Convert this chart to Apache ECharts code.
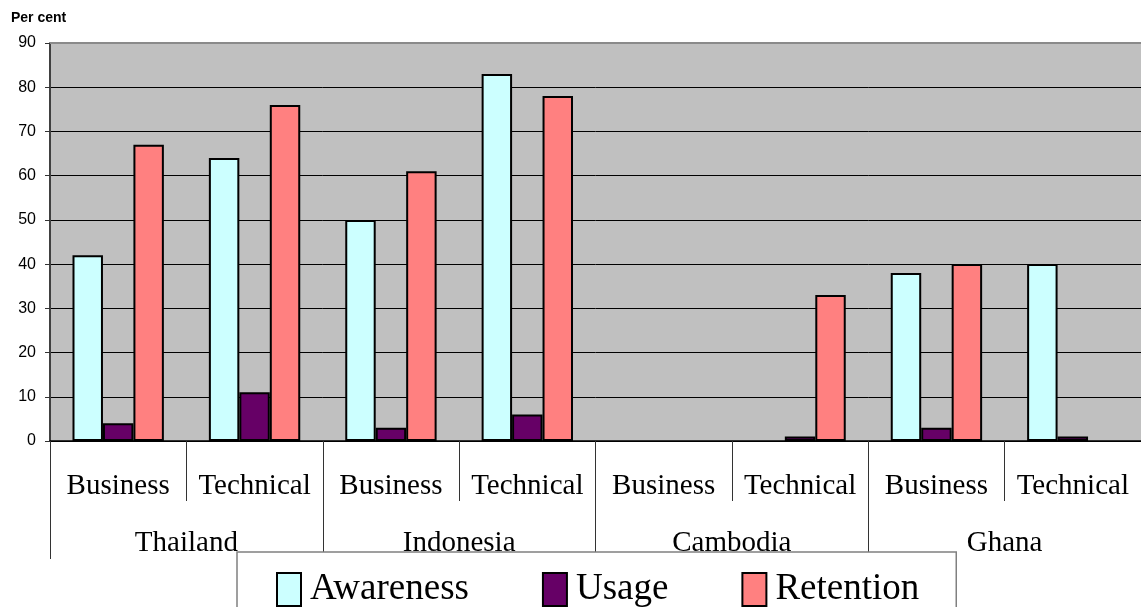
<!DOCTYPE html>
<html>
<head>
<meta charset="utf-8">
<script src="https://cdn.jsdelivr.net/npm/echarts@6/dist/echarts.min.js"></script>
<style>
html,body{margin:0;padding:0;background:#fff;}
#chart{width:1141px;height:607px;}
</style>
</head>
<body>
<div id="chart"></div>
<script>
// ---- data ----
const subCategories = ['Business','Technical','Business','Technical','Business','Technical','Business','Technical'];
const countries = ['Thailand','Indonesia','Cambodia','Ghana'];
const awareness = [42, 64, 50, 83, null, null, 38, 40];
const usage     = [4, 11, 3, 6, null, 1, 3, 1];
const retention = [67, 76, 61, 78, null, 33, 40, null];
const yTicks = [0,10,20,30,40,50,60,70,80,90];
const yTitle = 'Per cent';

const serif = '"Liberation Serif", "Times New Roman", serif';
const sans = '"Liberation Sans", Arial, sans-serif';

const chart = echarts.init(document.getElementById('chart'));
const splitColors = yTicks.map((v, i) => i === yTicks.length - 1 ? 'rgba(0,0,0,0)' : '#000');

const barStyle = (c) => ({ color: c, borderColor: '#000', borderWidth: 2 });

chart.setOption({
  animation: false,
  backgroundColor: '#fff',
  grid: {
    left: 50, right: -6, top: 43, bottom: 166,
    show: true, backgroundColor: '#C0C0C0', borderWidth: 0
  },
  graphic: [{
    type: 'text', left: 11, top: 11,
    style: { text: yTitle, font: 'bold 14px ' + sans, fill: '#000' }
  }],
  legend: {
    left: 237, top: 552,
    padding: [19, 37, 20, 39],
    itemGap: 73,
    itemWidth: 24, itemHeight: 33,
    icon: 'rect',
    backgroundColor: '#fff',
    borderColor: '#808080', borderWidth: 1.5,
    textStyle: { fontFamily: serif, fontSize: 37, color: '#000', padding: [18, 0, 0, 4] },
    data: ['Awareness', 'Usage', 'Retention']
  },
  xAxis: [{
    type: 'category', data: subCategories, position: 'bottom',
    axisLine: { show: true, lineStyle: { color: '#000', width: 1.5 } },
    axisTick: { show: true, length: 60, interval: 0, lineStyle: { color: '#333', width: 1 } },
    axisLabel: { interval: 0, margin: 31, fontFamily: serif, fontSize: 29, lineHeight: 29, color: '#000' },
    splitLine: { show: false }
  }, {
    type: 'category', data: countries, position: 'bottom',
    axisLine: { show: false },
    axisTick: { show: true, length: 118, interval: 0, lineStyle: { color: '#333', width: 1 } },
    axisLabel: { interval: 0, margin: 88, fontFamily: serif, fontSize: 29, lineHeight: 29, color: '#000' },
    splitLine: { show: false }
  }, {
    type: 'category', data: subCategories, position: 'top',
    axisLine: { show: true, lineStyle: { color: '#8a8a8a', width: 2 } },
    axisTick: { show: false }, axisLabel: { show: false }, splitLine: { show: false }
  }],
  yAxis: {
    type: 'value', min: 0, max: 90, interval: 10,
    axisLine: { show: true, lineStyle: { color: '#404040', width: 2 } },
    axisTick: { show: true, length: 5, lineStyle: { color: '#333' } },
    axisLabel: { margin: 14, fontFamily: sans, fontSize: 16, color: '#000' },
    splitLine: { show: true, lineStyle: { color: splitColors, width: 1 } }
  },
  series: [
    { name: 'Awareness', type: 'bar', xAxisIndex: 0, data: awareness, barGap: '0%', barCategoryGap: '33%', itemStyle: barStyle('#CCFFFF') },
    { name: 'Usage', type: 'bar', xAxisIndex: 0, data: usage, barGap: '0%', barCategoryGap: '33%', itemStyle: barStyle('#660066') },
    { name: 'Retention', type: 'bar', xAxisIndex: 0, data: retention, barGap: '0%', barCategoryGap: '33%', itemStyle: barStyle('#FF8080') }
  ]
});
</script>
</body>
</html>
